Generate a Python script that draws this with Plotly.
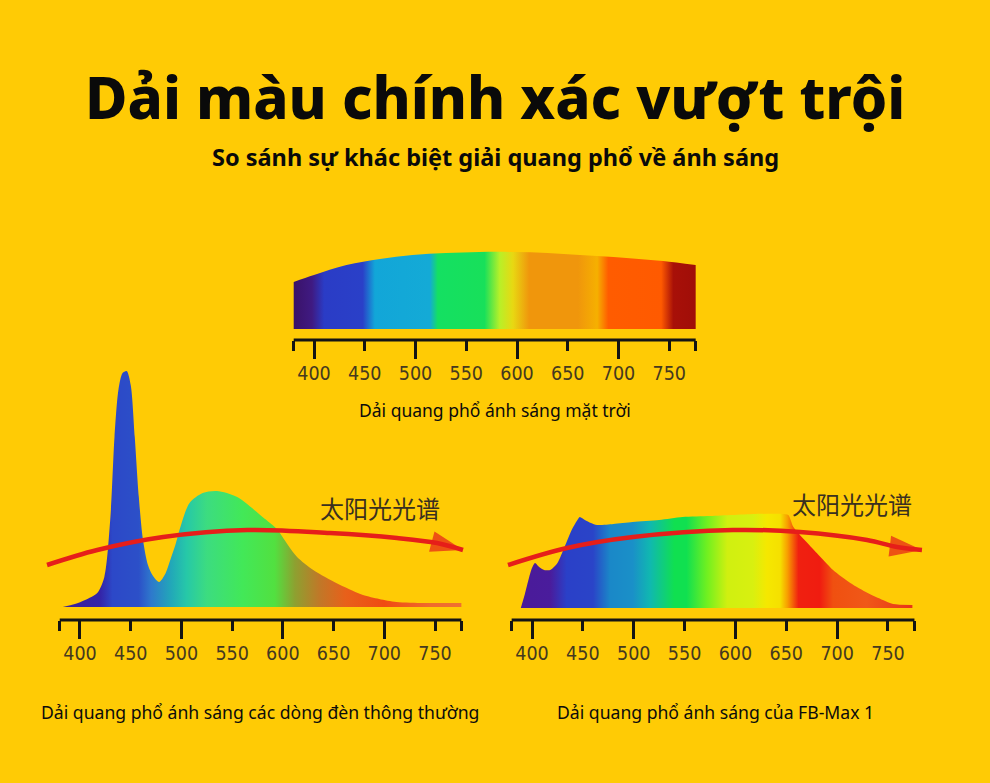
import plotly.graph_objects as go

W, H = 990, 783
BG = "#FFCB05"
AXIS_COL = "#141414"
TICK_TXT = "#45391f"

# ---------------- data ----------------
tick_short_vals = [380, 400, 450, 500, 550, 600, 650, 700, 750, 776]
tick_short_text = ["", "400", "450", "500", "550", "600", "650", "700", "750", ""]
tick_long_vals = [400, 500, 600, 700]
axis_start, axis_end = 380, 776

# sunlight band (height above band bottom)
sun_wl = [380, 400, 432, 465, 497, 530, 563, 597, 630, 662, 695, 720, 744, 776]
sun_h = [47, 54, 64, 70, 74, 76, 77, 77, 76, 74, 72, 70, 68, 64]
sun_stop_wl = [380, 398, 410, 448, 460, 514, 522, 568, 583, 596, 612, 660, 679, 690, 742, 754, 776]
sun_stop_col = ["#3a1268", "#3f1a82", "#2a3cc6", "#2a40c8", "#12a6d8", "#14aad6", "#14e062", "#18e05a",
                "#b8f028", "#e8d812", "#f0960c", "#f0960c", "#f6b000", "#ff5c00", "#ff5a00", "#a81008", "#a00e08"]

# ordinary lamp spectrum
lamp_wl = [383, 395, 405, 417, 424, 430, 434, 438, 442, 446, 450, 454, 458, 462, 467, 472, 478,
           484, 489, 494, 499, 508, 521, 535, 555, 580, 594, 605, 614, 630, 647, 665, 679, 695, 712, 740, 776]
lamp_h = [0, 3, 7, 14, 30, 90, 170, 218, 234, 236, 222, 170, 110, 68, 42, 31, 25,
          33, 47, 62, 80, 104, 114, 116, 110, 90, 78, 62, 50, 37, 27, 18, 12, 8, 5, 4, 4]
lamp_stop_wl = [380, 420, 432, 458, 470, 490, 505, 525, 560, 592, 612, 636, 662, 700, 745, 776]
lamp_stop_col = ["#3a1e96", "#3424a8", "#2c48c8", "#2c50c8", "#2e78cc", "#22a8b8", "#26c8a8", "#3cdc80",
                 "#42e858", "#52e040", "#8ea030", "#c07828", "#e8601a", "#f04a12", "#f06a2c", "#f07030"]

# FB-Max 1 spectrum
fb_wl = [389, 393, 397, 400, 403, 407, 412, 418, 425, 432, 439, 444, 447, 452, 458, 464, 480, 499,
         525, 548, 575, 597, 620, 646, 652, 657, 668, 680, 696, 713, 730, 745, 755, 774]
fb_h = [0, 14, 30, 40, 45, 41, 38, 38, 45, 61, 78, 87, 91, 88, 85, 83, 84, 86,
        88, 91, 92, 93, 94, 94, 93, 81, 68, 55, 38, 25, 15, 8, 4, 3]
fb_stop_wl = [380, 418, 434, 460, 477, 499, 516, 540, 552, 572, 592, 617, 631, 644, 651, 662, 683, 696, 729, 776]
fb_stop_col = ["#4a1a98", "#4a1c9c", "#2a40c8", "#2a44c8", "#1a88c8", "#1a90c8", "#10b8b0", "#10e050",
               "#10e050", "#70f020", "#d0f010", "#d8f010", "#f5e800", "#f5e000", "#f8a000", "#f02010",
               "#f01c10", "#f05010", "#f05818", "#e83218"]

# red "sunlight spectrum" arrows
lamp_arrow_wl = [367.5, 417, 482, 565, 646.5, 712.5, 752, 777.6]
lamp_arrow_h = [42, 57, 70, 77, 74, 69, 64, 57]
fb_arrow_wl = [376.4, 434.4, 499.3, 597.6, 663.5, 729.4, 758.9, 783.4]
fb_arrow_h = [43, 60, 71, 78, 76, 68, 61, 58]

title = "Dải màu chính xác vượt trội"
subtitle = "So sánh sự khác biệt giải quang phổ về ánh sáng"
cap_sun = "Dải quang phổ ánh sáng mặt trời"
cap_lamp = "Dải quang phổ ánh sáng các dòng đèn thông thường"
cap_fb = "Dải quang phổ ánh sáng của FB-Max 1"
cjk_label = "太阳光光谱"

# ---------------- layout helpers ----------------
XR = [355, 790]


def xdom(px400, scale):
    return [(px400 + (XR[0] - 400) * scale) / W, (px400 + (XR[1] - 400) * scale) / W]


def ydom(px_bottom, px_top):
    return [1 - px_bottom / H, 1 - px_top / H]


def cscale(stop_wl, stop_col):
    span = axis_end - axis_start
    return [[(w - axis_start) / span, c] for w, c in zip(stop_wl, stop_col)]


fig = go.Figure()

panels = [
    # (xaxis main, xaxis overlay, yaxis, px400, scale, ybottom, ytop, yrange)
    ("x", "x2", "y", 314, 1.0151, 340, 240, [-11, 89]),
    ("x3", "x4", "y2", 80, 1.0143, 620, 360, [-13, 247]),
    ("x5", "x6", "y3", 532, 1.0171, 620, 360, [-12, 248]),
]

lay = {}
for xm, xo, ya, px400, sc, yb, yt, yr in panels:
    xmn = "xaxis" + xm[1:]
    xon = "xaxis" + xo[1:]
    yan = "yaxis" + ya[1:]
    lay[xmn] = dict(domain=xdom(px400, sc), range=XR, anchor=ya, showgrid=False, zeroline=False,
                    showline=False, tickmode="array", tickvals=tick_short_vals, ticktext=tick_short_text,
                    ticks="outside", ticklen=10, tickwidth=3, tickcolor=AXIS_COL,
                    tickfont=dict(family="DejaVu Sans Condensed, DejaVu Sans", size=19.5, color=TICK_TXT),
                    ticklabelstandoff=6, fixedrange=True)
    lay[xon] = dict(overlaying=xm, range=XR, anchor=ya, showgrid=False, zeroline=False, showline=False,
                    tickmode="array", tickvals=tick_long_vals, showticklabels=False,
                    ticks="outside", ticklen=18, tickwidth=3, tickcolor=AXIS_COL, fixedrange=True)
    lay[yan] = dict(domain=ydom(yb, yt), range=yr, visible=False, fixedrange=True, anchor=xm)
    # invisible trace so the overlay (long-tick) axis is drawn
    fig.add_trace(go.Scatter(x=tick_long_vals, y=[0] * len(tick_long_vals), mode="markers",
                             marker=dict(opacity=0, size=1), xaxis=xo, yaxis=ya, hoverinfo="skip"))

# traces
fig.add_trace(go.Scatter(x=sun_wl, y=sun_h, mode="lines", line=dict(width=0, shape="spline"),
                         fill="tozeroy",
                         fillgradient=dict(type="horizontal", colorscale=cscale(sun_stop_wl, sun_stop_col),
                                           start=axis_start, stop=axis_end),
                         xaxis="x", yaxis="y", hoverinfo="skip"))
fig.add_trace(go.Scatter(x=lamp_wl, y=lamp_h, mode="lines", line=dict(width=0, shape="spline", smoothing=0.8),
                         fill="tozeroy",
                         fillgradient=dict(type="horizontal", colorscale=cscale(lamp_stop_wl, lamp_stop_col),
                                           start=axis_start, stop=axis_end),
                         xaxis="x3", yaxis="y2", hoverinfo="skip"))
fig.add_trace(go.Scatter(x=fb_wl, y=fb_h, mode="lines", line=dict(width=0, shape="spline", smoothing=0.7),
                         fill="tozeroy",
                         fillgradient=dict(type="horizontal", colorscale=cscale(fb_stop_wl, fb_stop_col),
                                           start=axis_start, stop=axis_end),
                         xaxis="x5", yaxis="y3", hoverinfo="skip"))

for awl, ah, xa, ya in [(lamp_arrow_wl, lamp_arrow_h, "x3", "y2"), (fb_arrow_wl, fb_arrow_h, "x5", "y3")]:
    sizes = [0] * (len(awl) - 1) + [34]
    fig.add_trace(go.Scatter(x=awl, y=ah, mode="lines+markers",
                             line=dict(color="#e61e1a", width=4.5, shape="spline"),
                             marker=dict(symbol="arrow", size=sizes, angleref="previous", color="#e61e1a",
                                         line=dict(width=0)),
                             cliponaxis=False, xaxis=xa, yaxis=ya, hoverinfo="skip"))

# axis lines
shapes = []
for xm, ya in [("x", "y"), ("x3", "y2"), ("x5", "y3")]:
    shapes.append(dict(type="line", xref=xm, yref=ya + " domain", x0=axis_start, x1=axis_end, y0=0, y1=0,
                       line=dict(color=AXIS_COL, width=3)))

annotations = [
    dict(text=title, x=495 / W, y=1 - 96 / H, xref="paper", yref="paper", showarrow=False,
         font=dict(family="Noto Sans", size=58, color="#0a0a0a", weight=800), xanchor="center", yanchor="middle"),
    dict(text=subtitle, x=495 / W, y=1 - 157 / H, xref="paper", yref="paper", showarrow=False,
         font=dict(family="Noto Sans", size=23.5, color="#0a0a0a", weight="bold"), xanchor="center", yanchor="middle"),
    dict(text=cap_sun, x=495 / W, y=1 - 410 / H, xref="paper", yref="paper", showarrow=False,
         font=dict(family="Noto Sans", size=17.5, color="#0c0c0c"), xanchor="center", yanchor="middle"),
    dict(text=cap_lamp, x=260 / W, y=1 - 712 / H, xref="paper", yref="paper", showarrow=False,
         font=dict(family="Noto Sans", size=17.6, color="#0c0c0c"), xanchor="center", yanchor="middle"),
    dict(text=cap_fb, x=715 / W, y=1 - 712 / H, xref="paper", yref="paper", showarrow=False,
         font=dict(family="Noto Sans", size=17.6, color="#0c0c0c"), xanchor="center", yanchor="middle"),
    dict(text=cjk_label, x=380 / W, y=1 - 507 / H, xref="paper", yref="paper", showarrow=False,
         font=dict(family="Noto Sans CJK SC", size=24, color="#3a3020"), xanchor="center", yanchor="middle"),
    dict(text=cjk_label, x=852 / W, y=1 - 503 / H, xref="paper", yref="paper", showarrow=False,
         font=dict(family="Noto Sans CJK SC", size=24, color="#3a3020"), xanchor="center", yanchor="middle"),
]

fig.update_layout(width=W, height=H, margin=dict(l=0, r=0, t=0, b=0), paper_bgcolor=BG, plot_bgcolor=BG,
                  showlegend=False, shapes=shapes, annotations=annotations, **lay)

fig.write_html("out.html")
